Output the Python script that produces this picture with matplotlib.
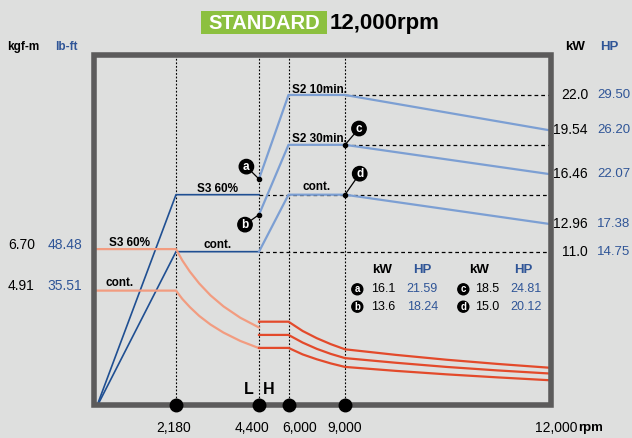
import numpy as np
import matplotlib
matplotlib.use("Agg")
import matplotlib.pyplot as plt
from matplotlib.patches import Rectangle

# ---- data ----
base_rpm = [0, 2180, 4400, 6000, 9000, 12000]
base_rpm_text = ["", "2,180", "4,400", "6,000", "9,000", "12,000"]

# L winding power (kW)
l_rpm = [0, 2180, 4400]
l_s3_kw = [0, 15.0, 15.0]
l_cont_kw = [0, 11.0, 11.0]

# H winding power (kW)
h_rpm = [4400, 6000, 9000, 12000]
h_10min_kw = [16.1, 22.0, 22.0, 19.54]
h_30min_kw = [13.6, 18.5, 18.5, 16.46]
h_cont_kw = [11.0, 15.0, 15.0, 12.96]

# L winding torque (kgf-m)
lt_rpm = [0, 2180, 2350, 2550, 2800, 3100, 3450, 3900, 4400]
lt_s3 = [6.70, 6.70, 6.21, 5.73, 5.22, 4.71, 4.23, 3.74, 3.32]
lt_cont = [4.91, 4.91, 4.55, 4.20, 3.82, 3.45, 3.10, 2.74, 2.43]

# H winding torque (kgf-m)
ht_rpm = [4400, 6000, 6750, 7500, 8250, 9000, 9750, 10500, 11250, 12000]
ht_10min = [3.57, 3.57, 3.17, 2.86, 2.60, 2.38, 2.14, 1.93, 1.75, 1.59]
ht_30min = [3.00, 3.00, 2.67, 2.40, 2.18, 2.00, 1.80, 1.62, 1.47, 1.34]
ht_cont = [2.44, 2.44, 2.16, 1.95, 1.77, 1.62, 1.45, 1.30, 1.17, 1.05]

right_kw = [22.0, 19.54, 16.46, 12.96, 11.0]
right_kw_text = ["22.0", "19.54", "16.46", "12.96", "11.0"]
right_hp_text = ["29.50", "26.20", "22.07", "17.38", "14.75"]

left_tq = [6.70, 4.91]
left_tq_text = ["6.70", "4.91"]
left_lbft_text = ["48.48", "35.51"]

pt_names = ["a", "b", "c", "d"]
pt_rpm = [4400, 4400, 9000, 9000]
pt_kw = [16.1, 13.6, 18.5, 15.0]
pt_kw_text = ["16.1", "13.6", "18.5", "15.0"]
pt_hp_text = ["21.59", "18.24", "24.81", "20.12"]

# ---- style ----
BG = "#dedfde"
DARK = "#1f4f92"
LIGHT = "#7c9fd3"
SALMON = "#f29c80"
RED = "#e34a2b"
FRAME = "#5c5b5b"
BLUE_TXT = "#2f5597"
GREEN = "#8cc03f"
SANS = ["Liberation Sans", "DejaVu Sans"]
NUM = 10

W, H = 632, 438
def fx(x):
    return x / W
def fy(y):
    return 1 - y / H
def pt(p):
    return p * 72 / 100

fig = plt.figure(figsize=(W / 100, H / 100), dpi=100, facecolor=BG)
ax = fig.add_axes([fx(93.5), fy(404.5), fx(550.5) - fx(93.5), fy(54.5) - fy(404.5)])
ax.set_facecolor(BG)

# non-linear rpm axis, as drawn in the catalogue
scale_rpm = [-68, 0, 2180, 4400, 6000, 9000, 12000, 12037]
scale_px = [93.5, 96, 176, 259, 288.5, 345, 548, 550.5]
ax.set_xscale("function", functions=(lambda v: np.interp(v, scale_rpm, scale_px),
                                     lambda p: np.interp(p, scale_px, scale_rpm)))
ax.set_xlim(-68, 12037)
ax.set_ylim(0.274, 24.84)

ax2 = ax.twinx()
ax2.set_ylim(0, 15.09)

for a in (ax, ax2):
    a.set_xticks([])
    a.set_yticks([])
    for s in a.spines.values():
        s.set_visible(False)

# guide lines
for r in base_rpm[1:5]:
    ax.axvline(r, color="black", lw=0.8, ls=(0, (1.6, 1.6)), zorder=1)
ax.hlines([22.0, 18.5], 9000, 12037, color="black", lw=0.9, ls=(0, (3, 2.4)), zorder=1)
ax.hlines([15.0, 11.0], 4400, 12037, color="black", lw=0.9, ls=(0, (3, 2.4)), zorder=1)

# power curves
ax.plot(l_rpm, l_s3_kw, color=DARK, lw=1.2, zorder=3)
ax.plot(l_rpm, l_cont_kw, color=DARK, lw=1.2, zorder=3)
ax.plot(h_rpm, h_10min_kw, color=LIGHT, lw=1.6, zorder=3)
ax.plot(h_rpm, h_30min_kw, color=LIGHT, lw=1.6, zorder=3)
ax.plot(h_rpm, h_cont_kw, color=LIGHT, lw=1.6, zorder=3)

# torque curves
ax2.plot(lt_rpm, lt_s3, color=SALMON, lw=1.6, zorder=2)
ax2.plot(lt_rpm, lt_cont, color=SALMON, lw=1.6, zorder=2)
for t in (ht_10min, ht_30min, ht_cont):
    ax2.plot(ht_rpm, t, color=RED, lw=1.6, zorder=2)

# curve labels
lab = dict(fontsize=8.5, fontweight="bold", family=SANS, textcoords="offset points")
ax.annotate("S2 10min.", (6000, 22.0), xytext=(pt(3.5), pt(2)), ha="left", va="baseline", **lab)
ax.annotate("S2 30min.", (6000, 18.5), xytext=(pt(3.5), pt(2.5)), ha="left", va="baseline", **lab)
ax.annotate("cont.", (7500, 15.0), xytext=(0, pt(4.5)), ha="center", va="baseline", **lab)
ax.annotate("S3 60%", (3300, 15.0), xytext=(0, pt(2.5)), ha="center", va="baseline", **lab)
ax.annotate("cont.", (3300, 11.0), xytext=(0, pt(3.5)), ha="center", va="baseline", **lab)
ax2.annotate("S3 60%", (926, 6.70), xytext=(0, pt(3)), ha="center", va="baseline", **lab)
ax2.annotate("cont.", (640, 4.91), xytext=(0, pt(4.5)), ha="center", va="baseline", **lab)

# lettered points
offs = [(-12.6, 12.4), (-14, -10), (14, 16.3), (14.7, 21)]
for n, r, k, (dx, dy) in zip(pt_names, pt_rpm, pt_kw, offs):
    ax.plot([r], [k], "o", color="black", ms=3, zorder=5)
    ax.annotate(n, (r, k), xytext=(pt(dx), pt(dy)), textcoords="offset points",
                ha="center", va="center", color="white", fontsize=8.5, fontweight="bold",
                family=SANS, zorder=6,
                bbox=dict(boxstyle="circle,pad=0.1", fc="black", ec="black"),
                arrowprops=dict(arrowstyle="-", color="black", lw=0.9, shrinkA=0, shrinkB=0))

# frame
ax2.add_patch(Rectangle((0, 0), 1, 1, transform=ax2.transAxes, fill=False, ec=FRAME,
                        lw=4, joinstyle="miter", clip_on=False, zorder=8))
ax2.plot(base_rpm[1:5], [0] * 4, "o", color="black", ms=9, transform=ax2.get_xaxis_transform(),
         clip_on=False, zorder=9)

# axis texts
for v, s1, s2 in zip(right_kw, right_kw_text, right_hp_text):
    y = fy(408.4 - 14.245 * v)
    fig.text(fx(588), y, s1, ha="right", va="center", fontsize=NUM, family=SANS)
    fig.text(fx(597), y, s2, ha="left", va="center", fontsize=9.5, family=SANS, color=BLUE_TXT)
for v, s1, s2 in zip(left_tq, left_tq_text, left_lbft_text):
    y = fy(404.5 - 23.2 * v - 4.5)
    fig.text(fx(8), y, s1, ha="left", va="center", fontsize=NUM, family=SANS)
    fig.text(fx(47.7), y, s2, ha="left", va="center", fontsize=NUM, family=SANS, color=BLUE_TXT)

bx = [0, 174, 252, 299.7, 344.5]
for x, s in zip(bx[1:], base_rpm_text[1:5]):
    fig.text(fx(x), fy(428), s, ha="center", va="center", fontsize=NUM, family=SANS)
fig.text(fx(578), fy(428.5), base_rpm_text[5], ha="right", va="center", fontsize=NUM, family=SANS)
fig.text(fx(578.5), fy(428.5), "rpm", ha="left", va="center", fontsize=9.5, family=SANS,
         fontweight="bold")

fig.text(fx(249), fy(389), "L", ha="center", va="center", fontsize=11.5, fontweight="bold", family=SANS)
fig.text(fx(268.5), fy(389), "H", ha="center", va="center", fontsize=11.5, fontweight="bold", family=SANS)

fig.text(fx(7), fy(47), "kgf-m", ha="left", va="center", fontsize=8.5, fontweight="bold", family=SANS)
fig.text(fx(55), fy(47), "lb-ft", ha="left", va="center", fontsize=8.5, fontweight="bold", family=SANS,
         color=BLUE_TXT)
fig.text(fx(565), fy(47), "kW", ha="left", va="center", fontsize=9.5, fontweight="bold", family=SANS)
fig.text(fx(600), fy(47), "HP", ha="left", va="center", fontsize=9.5, fontweight="bold", family=SANS,
         color=BLUE_TXT)

# title
fig.patches.append(Rectangle((fx(201), fy(34.3)), fx(326.7) - fx(201), fy(10.7) - fy(34.3),
                             transform=fig.transFigure, fc=GREEN, ec="none"))
fig.text(fx(263.8), fy(29.3), "STANDARD", ha="center", va="baseline", color="white",
         fontsize=14.5, fontweight="bold", family=SANS)
fig.text(fx(330), fy(29.3), "12,000rpm", ha="left", va="baseline", fontsize=16,
         fontweight="bold", family=SANS)

# table
hdr_y = fy(270)
for x, s, c in [(381.8, "kW", "black"), (422.6, "HP", BLUE_TXT), (479.5, "kW", "black"), (523, "HP", BLUE_TXT)]:
    fig.text(fx(x), hdr_y, s, ha="center", va="center", fontsize=9.5, fontweight="bold",
             family=SANS, color=c)
col_x = [(357.3, 370.7, 406.7), (357.3, 370.7, 406.7), (463.3, 475, 510), (463.3, 475, 510)]
row_y = [289.3, 306.7, 289.3, 306.7]
for n, k, h, (cx, kx, hx), y in zip(pt_names, pt_kw_text, pt_hp_text, col_x, row_y):
    fig.text(fx(cx), fy(y), n, ha="center", va="center", color="white", fontsize=7,
             fontweight="bold", family=SANS,
             bbox=dict(boxstyle="circle,pad=0.05", fc="black", ec="black"))
    fig.text(fx(kx), fy(y), k, ha="left", va="center", fontsize=9, family=SANS)
    fig.text(fx(hx), fy(y), h, ha="left", va="center", fontsize=9, family=SANS, color=BLUE_TXT)

fig.savefig("out.png", dpi=100, facecolor=BG)
